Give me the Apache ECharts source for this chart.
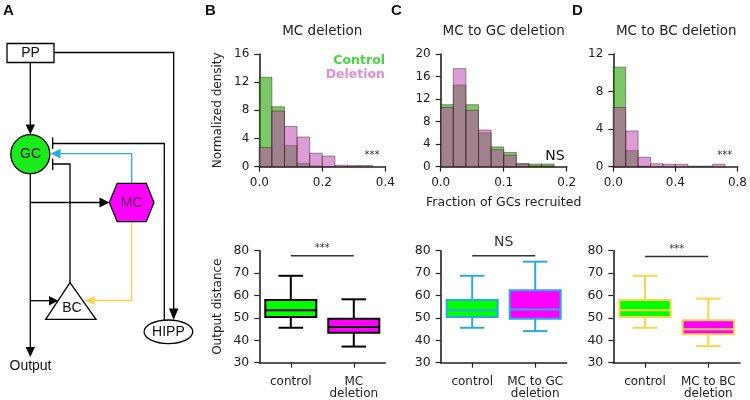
<!DOCTYPE html>
<html><head><meta charset="utf-8">
<script src="https://cdn.jsdelivr.net/npm/echarts@6/dist/echarts.min.js"></script>
<style>html,body{margin:0;padding:0;background:#fff}#c{width:750px;height:400px}</style>
</head><body><div id="c"></div>
<script>
// ---------- Histogram data (bin edges + densities) ----------
const edgesB = [0, 0.04, 0.08, 0.12, 0.16, 0.20, 0.24, 0.28, 0.32, 0.36];
const controlB = [12.7, 8.5, 3.0, 0.45, 0.1, 0, 0, 0, 0];
const deletionB = [2.7, 7.9, 5.7, 4.2, 1.9, 1.5, 0.2, 0.15, 0.15];

const edgesC = [0, 0.02, 0.04, 0.06, 0.08, 0.10, 0.12, 0.14, 0.16, 0.18];
const controlC = [11.0, 14.5, 11.0, 6.0, 3.5, 2.5, 0.5, 0.45, 0.45];
const deletionC = [10.5, 17.4, 10.0, 6.5, 3.0, 2.0, 0.5, 0.1, 0.1];

const edgesD = [0, 0.08, 0.16, 0.24, 0.32, 0.40, 0.48, 0.56, 0.64, 0.72];
const controlD = [10.6, 1.7, 0.05, 0, 0, 0, 0, 0, 0];
const deletionD = [6.3, 3.8, 1.0, 0.3, 0.25, 0.25, 0.05, 0.05, 0.25];

// ---------- Box plot data: [low whisker, Q1, median, Q3, high whisker] ----------
const catsB = ['control', 'MC\ndeletion'];
const boxB = [[45.6, 50.4, 53.4, 58.0, 68.8], [37.2, 43.4, 45.9, 49.6, 58.3]];
const catsC = ['control', 'MC to GC\ndeletion'];
const boxC = [[45.6, 50.4, 53.4, 58.0, 68.8], [44.1, 49.6, 53.7, 62.3, 75.1]];
const catsD = ['control', 'MC to BC\ndeletion'];
const boxD = [[45.6, 50.4, 53.4, 58.0, 68.8], [37.4, 42.7, 44.9, 49.0, 58.6]];
const sigY = [77.8, 77.8, 77.4];
const sigText = ['***', 'NS', '***'];

// ---------- titles ----------
const histTitles = ['MC deletion', 'MC to GC deletion', 'MC to BC deletion'];

const FONT = 'DejaVu Sans';
const INK = '#222';
const GREEN_H = 'rgba(37,163,3,0.6)';
const PINK_H = 'rgba(193,68,174,0.53)';

const chart = echarts.init(document.getElementById('c'), null, {renderer: 'canvas'});

const gridsPos = [
  {left: 259.3, top: 54, width: 126, height: 112.6},
  {left: 440.7, top: 54, width: 126, height: 112.6},
  {left: 613.3, top: 54, width: 126, height: 112.6},
  {left: 259.3, top: 250.7, width: 126, height: 112},
  {left: 440.7, top: 250.7, width: 126, height: 112},
  {left: 613.3, top: 250.7, width: 126.7, height: 112}
];

function axisCommon() {
  return {
    axisLine: {show: true, onZero: false, lineStyle: {color: INK, width: 1.6}},
    axisTick: {show: true, inside: false, length: 5, lineStyle: {color: INK, width: 1.2}},
    splitLine: {show: false},
    axisLabel: {color: INK, fontFamily: FONT, fontSize: 12, margin: 10}
  };
}

const xAxes = [], yAxes = [];
const histX = [[0.4, 0.2], [0.2, 0.1], [0.8, 0.4]];
const histY = [[16, 4], [20, 4], [12, 4]];
for (let i = 0; i < 3; i++) {
  const xa = Object.assign(axisCommon(), {
    type: 'value', gridIndex: i, min: 0, max: histX[i][0], interval: histX[i][1]
  });
  xa.axisLabel.formatter = v => v.toFixed(1);
  xa.axisLabel.margin = 10;
  if (i === 1) {
    xa.name = 'Fraction of GCs recruited';
    xa.nameLocation = 'middle';
    xa.nameGap = 30;
    xa.nameTextStyle = {color: INK, fontFamily: FONT, fontSize: 12.5};
  }
  xAxes.push(xa);
  const ya = Object.assign(axisCommon(), {
    type: 'value', gridIndex: i, min: 0, max: histY[i][0], interval: histY[i][1]
  });
  if (i === 0) {
    ya.name = 'Normalized density';
    ya.nameLocation = 'middle';
    ya.nameGap = 35;
    ya.nameTextStyle = {color: INK, fontFamily: FONT, fontSize: 12};
  }
  yAxes.push(ya);
}
const boxCats = [catsB, catsC, catsD];
for (let i = 0; i < 3; i++) {
  const xa = Object.assign(axisCommon(), {
    type: 'category', gridIndex: 3 + i, data: boxCats[i], boundaryGap: true
  });
  xa.axisTick.alignWithLabel = true;
  xa.axisLabel.interval = 0;
  xa.axisLabel.lineHeight = 12;
  xa.axisLabel.margin = 13;
  xa.axisLabel.fontSize = 12;
  xAxes.push(xa);
  const ya = Object.assign(axisCommon(), {
    type: 'value', gridIndex: 3 + i, min: 30, max: 80, interval: 10
  });
  ya.axisLabel.fontSize = 12.5;
  if (i === 0) {
    ya.name = 'Output distance';
    ya.nameLocation = 'middle';
    ya.nameGap = 35;
    ya.nameTextStyle = {color: INK, fontFamily: FONT, fontSize: 12};
  }
  yAxes.push(ya);
}

function histSeries(idx, edges, vals, color) {
  return {
    type: 'custom', xAxisIndex: idx, yAxisIndex: idx,
    data: vals.map((v, i) => [edges[i], edges[i + 1], v]),
    encode: {x: [0, 1], y: 2},
    renderItem: function (params, api) {
      const v = api.value(2);
      if (!(v > 0)) return null;
      const p0 = api.coord([api.value(0), 0]);
      const p1 = api.coord([api.value(1), v]);
      return {
        type: 'rect',
        shape: {x: p0[0], y: p1[1], width: p1[0] - p0[0], height: p0[1] - p1[1]},
        style: {fill: color, stroke: 'rgba(40,25,20,0.55)', lineWidth: 0.8}
      };
    }
  };
}

const boxLine = ['#000000', '#29abe2', '#ffd24a'];
const boxFill = ['#00ff00', '#ff00ff'];
function boxSeries(i, boxes) {
  const lc = boxLine[i];
  return {
    type: 'custom', xAxisIndex: 3 + i, yAxisIndex: 3 + i,
    data: boxes.map((b, k) => [k].concat(b)),
    encode: {x: 0, y: [1, 2, 3, 4, 5]},
    renderItem: function (params, api) {
      const ci = api.value(0);
      const lo = api.value(1), q1 = api.value(2), md = api.value(3), q3 = api.value(4), hi = api.value(5);
      const bw = api.size([1, 0])[0];
      const w = bw * 0.81, cw = bw * 0.39;
      const cx = api.coord([ci, md])[0];
      const y = v => api.coord([ci, v])[1];
      const st = {stroke: lc, lineWidth: 2, fill: null};
      return {
        type: 'group', children: [
          {type: 'line', shape: {x1: cx, y1: y(lo), x2: cx, y2: y(q1)}, style: st},
          {type: 'line', shape: {x1: cx, y1: y(q3), x2: cx, y2: y(hi)}, style: st},
          {type: 'line', shape: {x1: cx - cw / 2, y1: y(lo), x2: cx + cw / 2, y2: y(lo)}, style: st},
          {type: 'line', shape: {x1: cx - cw / 2, y1: y(hi), x2: cx + cw / 2, y2: y(hi)}, style: st},
          {type: 'rect', shape: {x: cx - w / 2, y: y(q3), width: w, height: y(q1) - y(q3)},
            style: {fill: boxFill[params.dataIndex], stroke: lc, lineWidth: 2}},
          {type: 'line', shape: {x1: cx - w / 2, y1: y(md), x2: cx + w / 2, y2: y(md)}, style: st}
        ]
      };
    }
  };
}

function sigSeries(i) {
  return {
    type: 'custom', xAxisIndex: 3 + i, yAxisIndex: 3 + i,
    data: [[0, 1, sigY[i]]],
    encode: {x: [0, 1], y: 2},
    renderItem: function (params, api) {
      const a = api.coord([api.value(0), api.value(2)]);
      const b = api.coord([api.value(1), api.value(2)]);
      const isNS = sigText[i] === 'NS';
      return {
        type: 'group', children: [
          {type: 'line', shape: {x1: a[0], y1: a[1], x2: b[0], y2: b[1]}, style: {stroke: '#333', lineWidth: 1.5}},
          {type: 'text', style: {
            text: sigText[i], x: (a[0] + b[0]) / 2, y: isNS ? a[1] - 6 : a[1] - 2,
            textAlign: 'center', textVerticalAlign: 'bottom', align: 'center', verticalAlign: 'bottom',
            font: (isNS ? '14px ' : '10px ') + FONT, fill: '#333'
          }}
        ]
      };
    }
  };
}

const series = [
  histSeries(0, edgesB, controlB, GREEN_H), histSeries(0, edgesB, deletionB, PINK_H),
  histSeries(1, edgesC, controlC, GREEN_H), histSeries(1, edgesC, deletionC, PINK_H),
  histSeries(2, edgesD, controlD, GREEN_H), histSeries(2, edgesD, deletionD, PINK_H),
  boxSeries(0, boxB), boxSeries(1, boxC), boxSeries(2, boxD),
  sigSeries(0), sigSeries(1), sigSeries(2)
];

// ---------- texts & diagram ----------
function txt(t, x, y, font, fill, align, va) {
  return {type: 'text', z: 50, style: {text: t, x: x, y: y, font: font, fill: fill || INK,
    textAlign: align || 'center', textVerticalAlign: va || 'middle', align: align || 'center', verticalAlign: va || 'middle'}};
}
const SANS = 'Liberation Sans';
const graphics = [];
graphics.push(txt('A', 3, 11, 'bold 15px ' + SANS, '#111', 'left'));
graphics.push(txt('B', 205, 11, 'bold 15px ' + SANS, '#111', 'left'));
graphics.push(txt('C', 391, 11, 'bold 15px ' + SANS, '#111', 'left'));
graphics.push(txt('D', 572, 11, 'bold 15px ' + SANS, '#111', 'left'));
const titleX = [322.3, 503.7, 676.3];
for (let i = 0; i < 3; i++) graphics.push(txt(histTitles[i], titleX[i], 31, '13.5px ' + FONT, INK));
graphics.push(txt('Control', 385, 61, 'bold 12.5px ' + FONT, '#44d83c', 'right'));
graphics.push(txt('Deletion', 385, 74.5, 'bold 12.5px ' + FONT, '#e08fd8', 'right'));
graphics.push(txt('***', 372, 155.5, '10px ' + FONT, '#333'));
graphics.push(txt('NS', 555, 156, '14px ' + FONT, '#111'));
graphics.push(txt('***', 724.7, 155.5, '10px ' + FONT, '#333'));

// Diagram (panel A)
const LW = 1.3;
function pl(points, color) { return {type: 'polyline', z: 10, shape: {points: points}, style: {stroke: color || '#000', lineWidth: LW, fill: null}}; }
function tri(points, color) { return {type: 'polygon', z: 12, shape: {points: points}, style: {fill: color || '#000', stroke: null}}; }
// PP box
graphics.push({type: 'rect', z: 11, shape: {x: 7, y: 43.5, width: 47, height: 19}, style: {fill: '#fff', stroke: '#000', lineWidth: LW}});
graphics.push(txt('PP', 30.5, 53.5, '14px ' + SANS, '#111'));
// PP -> HIPP
graphics.push(pl([[54, 52.5], [173.7, 52.5], [173.7, 309]]));
graphics.push(tri([[169, 308.5], [178.4, 308.5], [173.7, 320]]));
// PP -> GC
graphics.push(pl([[30.3, 62.5], [30.3, 125]]));
graphics.push(tri([[25.6, 124.5], [35, 124.5], [30.3, 134.5]]));
// GC -> Output
graphics.push(pl([[30.3, 173], [30.3, 347.5]]));
graphics.push(tri([[25.6, 347], [35, 347], [30.3, 357]]));
graphics.push(txt('Output', 30.5, 366.5, '14px ' + SANS, '#111'));
// GC -> MC
graphics.push(pl([[30.3, 202.5], [100, 202.5]]));
graphics.push(tri([[99.5, 197.6], [99.5, 207.4], [109.5, 202.5]]));
// GC -> BC
graphics.push(pl([[30.3, 300.7], [49.5, 300.7]]));
graphics.push(tri([[49, 296], [49, 305.4], [58.3, 300.7]]));
// HIPP -| GC
graphics.push(pl([[164.3, 324], [164.3, 143.5], [52.7, 143.5]]));
graphics.push(pl([[52.7, 137.5], [52.7, 149]]));
// BC -| GC
graphics.push(pl([[70, 283], [70, 164], [52.7, 164]]));
graphics.push(pl([[52.7, 158.5], [52.7, 170]]));
// MC -> GC (blue)
graphics.push(pl([[131.7, 183.5], [131.7, 153.6], [60, 153.6]], '#29a9e1'));
graphics.push(tri([[60.5, 148.8], [60.5, 158.4], [50.7, 153.6]], '#29a9e1'));
// MC -> BC (yellow)
graphics.push(pl([[131.7, 221.7], [131.7, 300.5], [94, 300.5]], '#ffd24a'));
graphics.push(tri([[94.7, 296], [94.7, 305], [85, 300.5]], '#ffd24a'));
// GC circle
graphics.push({type: 'circle', z: 11, shape: {cx: 30.3, cy: 154.2, r: 19.5}, style: {fill: '#1aeb1a', stroke: '#000', lineWidth: LW}});
graphics.push(txt('GC', 30.5, 154.5, '14px ' + SANS, '#111'));
// MC hexagon
graphics.push({type: 'polygon', z: 11, shape: {points: [[109.3, 202.5], [117.2, 183.3], [146.2, 183.3], [154, 202.5], [146.2, 221.7], [117.2, 221.7]]},
  style: {fill: '#ff00ff', stroke: '#000', lineWidth: LW}});
graphics.push(txt('MC', 131.7, 203, '14px ' + SANS, '#5a005a'));
// BC triangle
graphics.push({type: 'polygon', z: 11, shape: {points: [[70, 282.7], [45.7, 319.3], [96, 319.3]]}, style: {fill: '#fff', stroke: '#000', lineWidth: LW}});
graphics.push(txt('BC', 72, 308.5, '14px ' + SANS, '#111'));
// HIPP ellipse
graphics.push({type: 'ellipse', z: 11, shape: {cx: 168.4, cy: 331.8, rx: 24.3, ry: 11.8}, style: {fill: '#fff', stroke: '#000', lineWidth: LW}});
graphics.push(txt('HIPP', 168.4, 332.5, '14px ' + SANS, '#111'));

chart.setOption({
  animation: false,
  backgroundColor: '#fff',
  textStyle: {fontFamily: FONT},
  grid: gridsPos,
  xAxis: xAxes,
  yAxis: yAxes,
  series: series,
  graphic: {elements: graphics}
});
</script>
</body></html>
